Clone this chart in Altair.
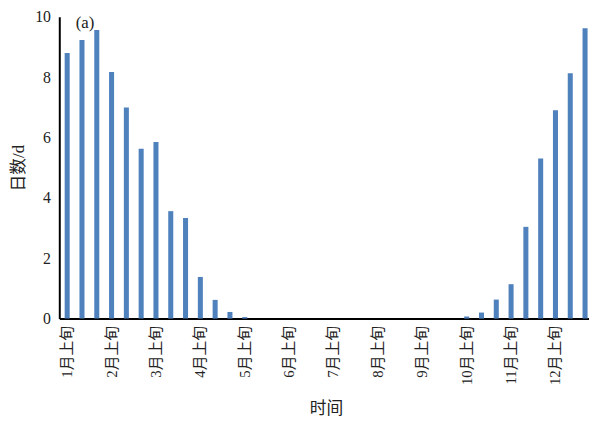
import altair as alt
import pandas as pd

months = [f"{m}月" for m in range(1, 13)]
dekads = ["上旬", "中旬", "下旬"]
categories = [m + d for m in months for d in dekads]
values = [
    8.80, 9.23, 9.56,
    8.17, 6.99, 5.63,
    5.85, 3.56, 3.33,
    1.38, 0.62, 0.22,
    0.05, 0.0, 0.0,
    0.0, 0.0, 0.0,
    0.0, 0.0, 0.0,
    0.0, 0.0, 0.0,
    0.0, 0.0, 0.0,
    0.07, 0.20, 0.63,
    1.14, 3.04, 5.30,
    6.90, 8.13, 9.62,
]
tick_labels = [m + "上旬" for m in months]
y_ticks = [0, 2, 4, 6, 8, 10]
panel_label = "(a)"

df = pd.DataFrame({"时间": categories, "日数": values})

FONT = "Liberation Serif, Times New Roman, Noto Sans CJK SC"

x_enc = alt.X(
    "时间:N",
    sort=categories,
    scale=alt.Scale(domain=categories, range=[0, 541], paddingInner=0.66, paddingOuter=0.363),
    axis=alt.Axis(
        title="时间",
        values=tick_labels,
        labelAngle=-90,
        labelAlign="right",
        labelBaseline="middle",
        labelFont=FONT,
        labelFontSize=15,
        labelColor="#222",
        labelPadding=7,
        ticks=False,
        grid=False,
        domainColor="black",
        domainWidth=2,
        titleFont=FONT,
        titleFontSize=17,
        titleFontWeight="normal",
        titleColor="#222",
        titlePadding=16,
    ),
)

bars = alt.Chart(df).mark_bar(color="#4F81BD").encode(
    x=x_enc,
    y=alt.Y(
        "日数:Q",
        scale=alt.Scale(domain=[0, 10], nice=False),
        axis=alt.Axis(
            title="日数/d",
            values=y_ticks,
            grid=False,
            ticks=False,
            domainColor="black",
            domainWidth=2,
            labelFont=FONT,
            labelFontSize=16,
            labelColor="#222",
            labelPadding=9,
            titleFont=FONT,
            titleFontSize=17,
            titleFontWeight="normal",
            titleColor="#222",
            titlePadding=7,
        ),
    ),
)

label_df = pd.DataFrame({"时间": ["1月中旬"], "日数": [10.0], "t": [panel_label]})
label = alt.Chart(label_df).mark_text(
    font=FONT, fontSize=17, color="#222", baseline="top", align="center", dx=3, dy=-2
).encode(
    x=alt.X("时间:N", sort=categories),
    y=alt.Y("日数:Q"),
    text="t:N",
)

chart = (
    alt.layer(bars, label)
    .properties(
        width=537,
        height=306,
        autosize=alt.AutoSizeParams(type="none"),
        padding={"left": 52, "top": 6, "right": 0, "bottom": 106},
    )
    .configure(background="white")
    .configure_view(strokeWidth=0, stroke="transparent")
    .configure_axis(grid=False)
)

chart.save("out.html", embed_options={"renderer": "svg", "actions": False})
